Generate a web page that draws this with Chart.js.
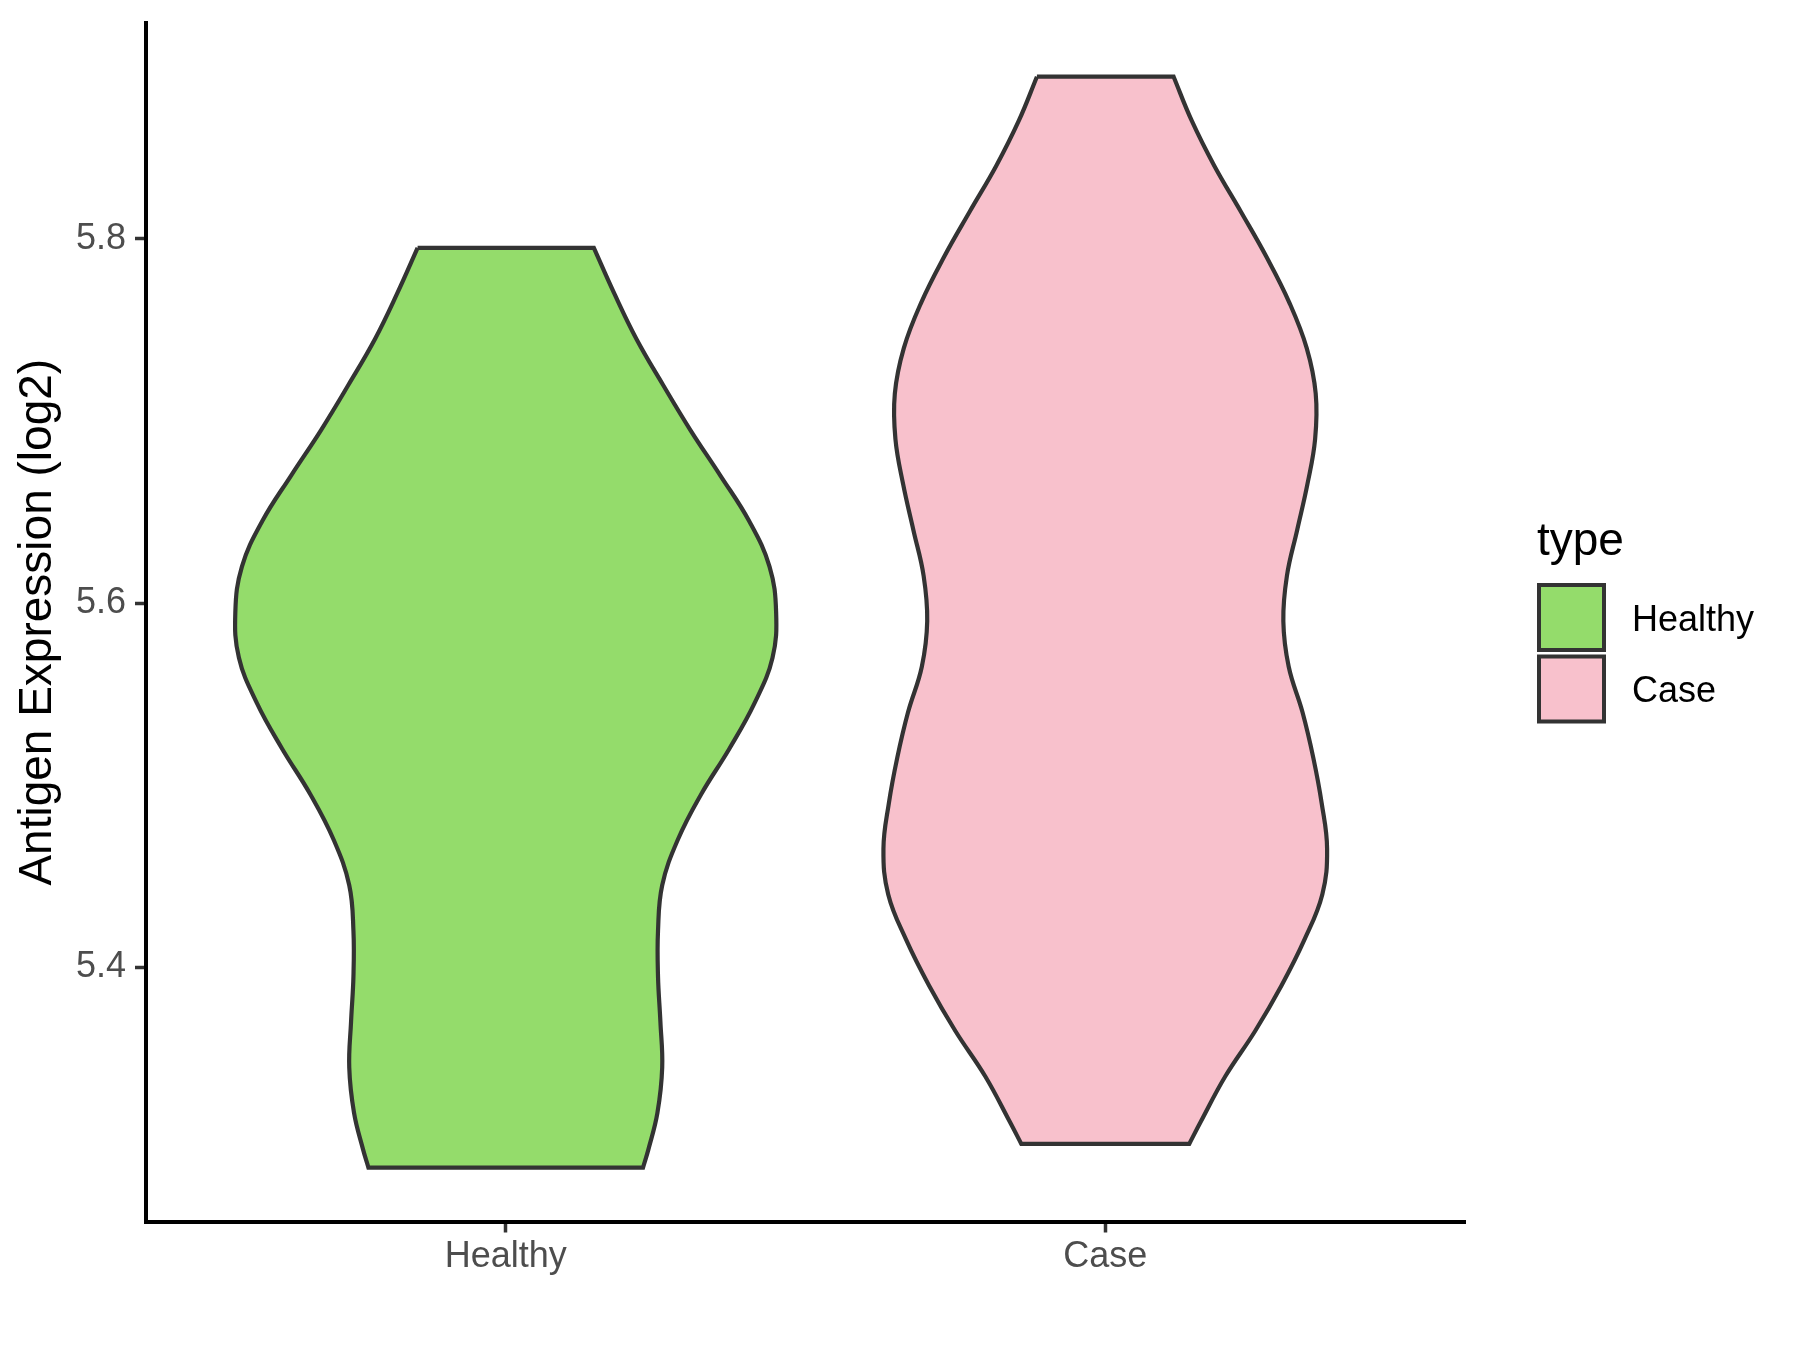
<!DOCTYPE html>
<html>
<head>
<meta charset="utf-8">
<script src="https://cdn.jsdelivr.net/npm/chart.js@4.4.1/dist/chart.umd.min.js"></script>
<style>
  html, body { margin: 0; padding: 0; background: #fff; }
  #wrap { width: 1800px; height: 1350px; }
</style>
</head>
<body>
<div id="wrap"><canvas id="chart" width="1800" height="1350"></canvas></div>
<script>
(function () {
  'use strict';

  // ── Data ───────────────────────────────────────────
  const categories = ['Healthy', 'Case'];
  const yTicks = [5.4, 5.6, 5.8];
  const yTickLabels = ['5.4', '5.6', '5.8'];

  // violin outline: expression level and half-width (x units) at that level
  const healthyY = [5.795, 5.770, 5.745, 5.720, 5.695, 5.670, 5.645, 5.620, 5.595, 5.570,
                    5.545, 5.520, 5.495, 5.470, 5.445, 5.420, 5.395, 5.370, 5.345, 5.320,
                    5.300, 5.290];
  const healthyHalfWidth = [0.147, 0.181, 0.218, 0.262, 0.308, 0.358, 0.406, 0.440, 0.451, 0.445,
                            0.415, 0.373, 0.326, 0.287, 0.261, 0.254, 0.254, 0.258, 0.261, 0.253,
                            0.238, 0.229];

  const caseY = [5.889, 5.865, 5.840, 5.815, 5.790, 5.765, 5.740, 5.715, 5.690, 5.665,
                 5.640, 5.615, 5.590, 5.565, 5.540, 5.515, 5.490, 5.465, 5.440, 5.415,
                 5.390, 5.365, 5.340, 5.315, 5.303];
  const caseHalfWidth = [0.114, 0.144, 0.182, 0.226, 0.269, 0.307, 0.336, 0.351, 0.350, 0.337,
                         0.320, 0.303, 0.297, 0.306, 0.329, 0.347, 0.361, 0.370, 0.362, 0.332,
                         0.294, 0.250, 0.200, 0.159, 0.140];

  const fillColors = ['#94DC6B', '#F8C1CC'];
  const outline = '#333333';
  const FONT = '"Liberation Sans", Arial, Helvetica, sans-serif';

  Chart.defaults.font.family = FONT;

  // closed outline; corner points doubled so flat ends stay straight
  function violin(center, ys, hws) {
    const n = ys.length;
    const L = function (i) { return { x: center - hws[i], y: ys[i] }; };
    const R = function (i) { return { x: center + hws[i], y: ys[i] }; };
    const pts = [L(0), L(0), R(0), R(0)];
    for (let i = 1; i < n - 1; i++) pts.push(R(i));
    pts.push(R(n - 1), R(n - 1), L(n - 1), L(n - 1));
    for (let i = n - 2; i >= 1; i--) pts.push(L(i));
    pts.push(L(0), L(0));
    return pts;
  }

  const shapes = [violin(1, healthyY, healthyHalfWidth), violin(2, caseY, caseHalfWidth)];

  // ── Legend (ggplot style, right side) ──────────────
  const typeLegend = {
    id: 'typeLegend',
    afterDraw: function (chart) {
      const c = chart.ctx;
      c.save();
      c.fillStyle = '#000';
      c.textBaseline = 'alphabetic';
      c.font = '46px ' + FONT;
      c.fillText('type', 1537, 555);
      categories.forEach(function (name, k) {
        const top = 585 + k * 71.5;
        c.fillStyle = fillColors[k];
        c.fillRect(1539, top, 65, 65);
        c.strokeStyle = outline;
        c.lineWidth = 4;
        c.strokeRect(1539, top, 65, 65);
        c.fillStyle = '#000';
        c.font = '36px ' + FONT;
        c.fillText(name, 1632, top + 32.5 + 13);
      });
      c.restore();
    }
  };

  const tickFont = { size: 36 };

  new Chart(document.getElementById('chart'), {
    type: 'scatter',
    data: {
      datasets: categories.map(function (name, k) {
        return {
          label: name,
          data: shapes[k],
          showLine: true,
          fill: 'shape',
          backgroundColor: fillColors[k],
          borderColor: outline,
          borderWidth: 4.2,
          pointRadius: 0,
          pointHoverRadius: 0,
          tension: 0.4
        };
      })
    },
    options: {
      responsive: false,
      animation: false,
      events: [],
      layout: { padding: { top: 23, right: 335, bottom: 0, left: 0 } },
      plugins: {
        legend: { display: false },
        tooltip: { enabled: false }
      },
      scales: {
        x: {
          type: 'linear',
          min: 0.4,
          max: 2.6,
          afterBuildTicks: function (s) { s.ticks = categories.map(function (c, i) { return { value: i + 1 }; }); },
          afterFit: function (s) { s.height = 128.5; s.paddingLeft = 0; s.paddingRight = 0; },
          ticks: {
            callback: function (v, i) { return categories[i]; },
            color: '#4D4D4D', font: tickFont, padding: 3, autoSkip: false, maxRotation: 0
          },
          grid: { drawOnChartArea: false, drawTicks: true, tickLength: 11, tickColor: outline, tickWidth: 3.5 },
          border: { display: true, color: '#000', width: 4 }
        },
        y: {
          type: 'linear',
          min: 5.2604,
          max: 5.9185,
          afterBuildTicks: function (s) { s.ticks = yTicks.map(function (v) { return { value: v }; }); },
          afterFit: function (s) { s.width = 146; s.paddingTop = 0; s.paddingBottom = 0; },
          ticks: {
            callback: function (v, i) { return yTickLabels[i]; },
            color: '#4D4D4D', font: tickFont, padding: 9
          },
          grid: { drawOnChartArea: false, drawTicks: true, tickLength: 11, tickColor: outline, tickWidth: 3.5 },
          border: { display: true, color: '#000', width: 4 },
          title: {
            display: true,
            text: 'Antigen Expression (log2)',
            color: '#000',
            font: { size: 46 },
            padding: { top: 11, bottom: 0 }
          }
        }
      }
    },
    plugins: [typeLegend]
  });
})();
</script>
</body>
</html>
